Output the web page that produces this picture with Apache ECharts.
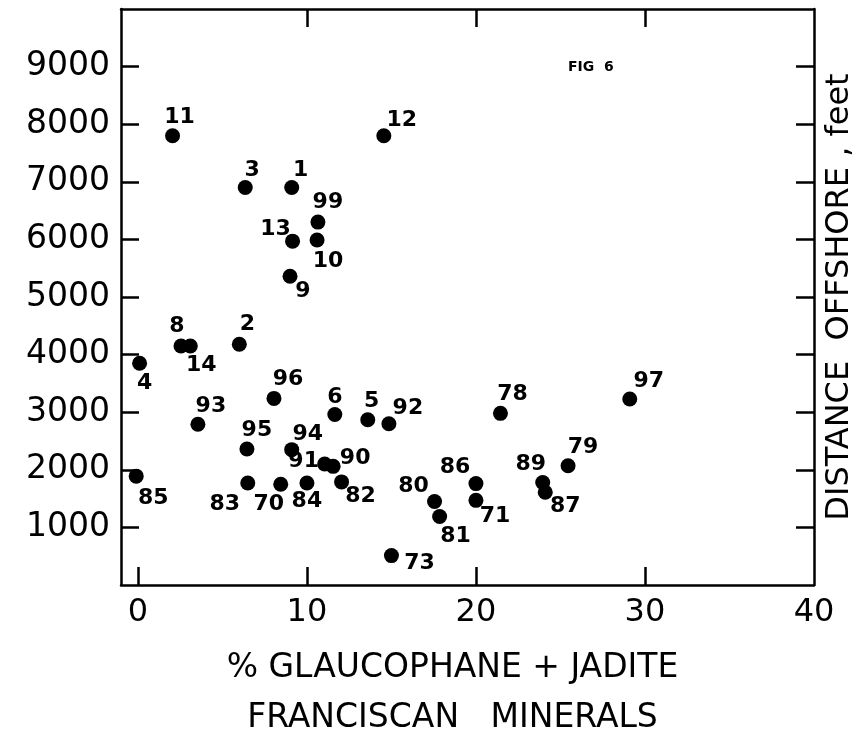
<!DOCTYPE html>
<html>
<head>
<meta charset="utf-8">
<title>Fig 6</title>
<script src="https://cdn.jsdelivr.net/npm/echarts@6/dist/echarts.min.js"></script>
<style>
  html, body { margin: 0; padding: 0; background: #fff; }
  #myChart { width: 859px; height: 735px; }
</style>
</head>
<body>
<div id="myChart"></div>
<script>
// sample numbers, % glaucophane + jadite, distance offshore (feet)
var sampleIds = ['11', '12', '3', '1', '99', '13', '10', '9', '8', '14', '2', '4',
  '96', '93', '6', '5', '92', '95', '94', '91', '90', '85', '83', '70', '84', '82',
  '80', '81', '73', '78', '97', '79', '86', '71', '89', '87'];
var glaucophanePct = [2.05, 14.55, 6.35, 9.1, 10.65, 9.15, 10.6, 9.0, 2.55, 3.1, 6.0, 0.1,
  8.05, 3.55, 11.65, 13.6, 14.85, 6.45, 9.1, 11.05, 11.55, -0.1, 6.5, 8.45, 10.0, 12.05,
  17.55, 17.85, 15.0, 21.45, 29.1, 25.45, 20.0, 20.0, 23.95, 24.1];
var distanceFt = [7800, 7800, 6900, 6900, 6300, 5970, 5990, 5360, 4150, 4150, 4180, 3850,
  3240, 2790, 2960, 2870, 2800, 2360, 2350, 2100, 2060, 1890, 1770, 1750, 1770, 1790,
  1450, 1190, 510, 2980, 3230, 2070, 1760, 1470, 1780, 1610];

var xTickLabels = [0, 10, 20, 30, 40];
var yTickValues = [1000, 2000, 3000, 4000, 5000, 6000, 7000, 8000, 9000];

// where each number sits relative to its dot (px)
var labelOffsets = {
  '11': [7, -18], '12': [18, -15], '3': [7, -17], '1': [9, -17], '99': [10, -20],
  '13': [-17, -12], '10': [11, 21], '9': [13, 15], '8': [-4, -20], '14': [11, 19],
  '2': [8, -20], '4': [5, 20], '96': [14, -19], '93': [13, -18], '6': [0, -17],
  '5': [4, -18], '92': [19, -15], '95': [10, -19], '94': [16, -15], '91': [-21, -3],
  '90': [22, -8], '85': [17, 22], '83': [-23, 21], '70': [-12, 20], '84': [0, 18],
  '82': [19, 14], '80': [-21, -15], '81': [16, 20], '73': [28, 8], '78': [12, -19],
  '97': [19, -18], '79': [15, -18], '86': [-21, -16], '71': [19, 16], '89': [-12, -18],
  '87': [20, 14]
};

var points = [];
for (var i = 0; i < sampleIds.length; i++) {
  points.push({
    name: sampleIds[i],
    value: [glaucophanePct[i], distanceFt[i]],
    label: { offset: labelOffsets[sampleIds[i]] }
  });
}

var font = 'DejaVu Sans';
var lineStyle = { color: '#000', width: 2.5 };

var myChart = echarts.init(document.getElementById('myChart'));
myChart.setOption({
  backgroundColor: '#fff',
  animation: false,
  title: {
    text: 'FIG  6',
    left: 563,
    top: 55,
    textStyle: { fontFamily: font, fontSize: 14, fontWeight: 'bold', color: '#000' }
  },
  grid: { left: 121, right: 45, top: 9, bottom: 150, outerBoundsMode: 'none', containLabel: false },
  xAxis: [{
    type: 'value',
    position: 'bottom',
    min: -1,
    max: 40,
    name: '% GLAUCOPHANE + JADITE\nFRANCISCAN   MINERALS',
    nameLocation: 'middle',
    nameGap: 58,
    nameTextStyle: {
      fontFamily: font, fontSize: 33, color: '#000', lineHeight: 50,
      padding: [0, 30, 0, 0]
    },
    axisLine: { show: true, onZero: false, lineStyle: lineStyle },
    axisTick: { show: true, inside: true, length: 18, customValues: [0, 10, 20, 30], lineStyle: lineStyle },
    axisLabel: { customValues: xTickLabels, margin: 12, fontFamily: font, fontSize: 32, color: '#000' },
    splitLine: { show: false }
  }, {
    type: 'value',
    position: 'top',
    min: -1,
    max: 40,
    axisLine: { show: true, onZero: false, lineStyle: lineStyle },
    axisTick: { show: true, inside: true, length: 18, customValues: [10, 20, 30], lineStyle: lineStyle },
    axisLabel: { show: false },
    splitLine: { show: false }
  }],
  yAxis: [{
    type: 'value',
    position: 'left',
    min: 0,
    max: 10000,
    interval: 1000,
    axisLine: { show: true, onZero: false, lineStyle: lineStyle },
    axisTick: { show: true, inside: true, length: 18, customValues: yTickValues, lineStyle: lineStyle },
    axisLabel: {
      customValues: yTickValues,
      formatter: function (v) { return String(v); },
      margin: 11, fontFamily: font, fontSize: 33, color: '#000'
    },
    splitLine: { show: false }
  }, {
    type: 'value',
    position: 'right',
    min: 0,
    max: 10000,
    interval: 1000,
    name: 'DISTANCE  OFFSHORE , feet',
    nameLocation: 'middle',
    nameRotate: 90,
    nameGap: 10,
    nameTextStyle: { fontFamily: font, fontSize: 32, color: '#000', verticalAlign: 'top' },
    axisLine: { show: true, onZero: false, lineStyle: lineStyle },
    axisTick: { show: true, inside: true, length: 18, customValues: yTickValues, lineStyle: lineStyle },
    axisLabel: { show: false },
    splitLine: { show: false }
  }],
  series: [{
    name: 'samples',
    type: 'scatter',
    symbol: 'circle',
    symbolSize: 15,
    itemStyle: { color: '#000', opacity: 1 },
    label: {
      show: true,
      position: 'inside',
      formatter: '{b}',
      fontFamily: font,
      fontSize: 22,
      fontWeight: 'bold',
      color: '#000'
    },
    data: points
  }]
});
</script>
</body>
</html>
